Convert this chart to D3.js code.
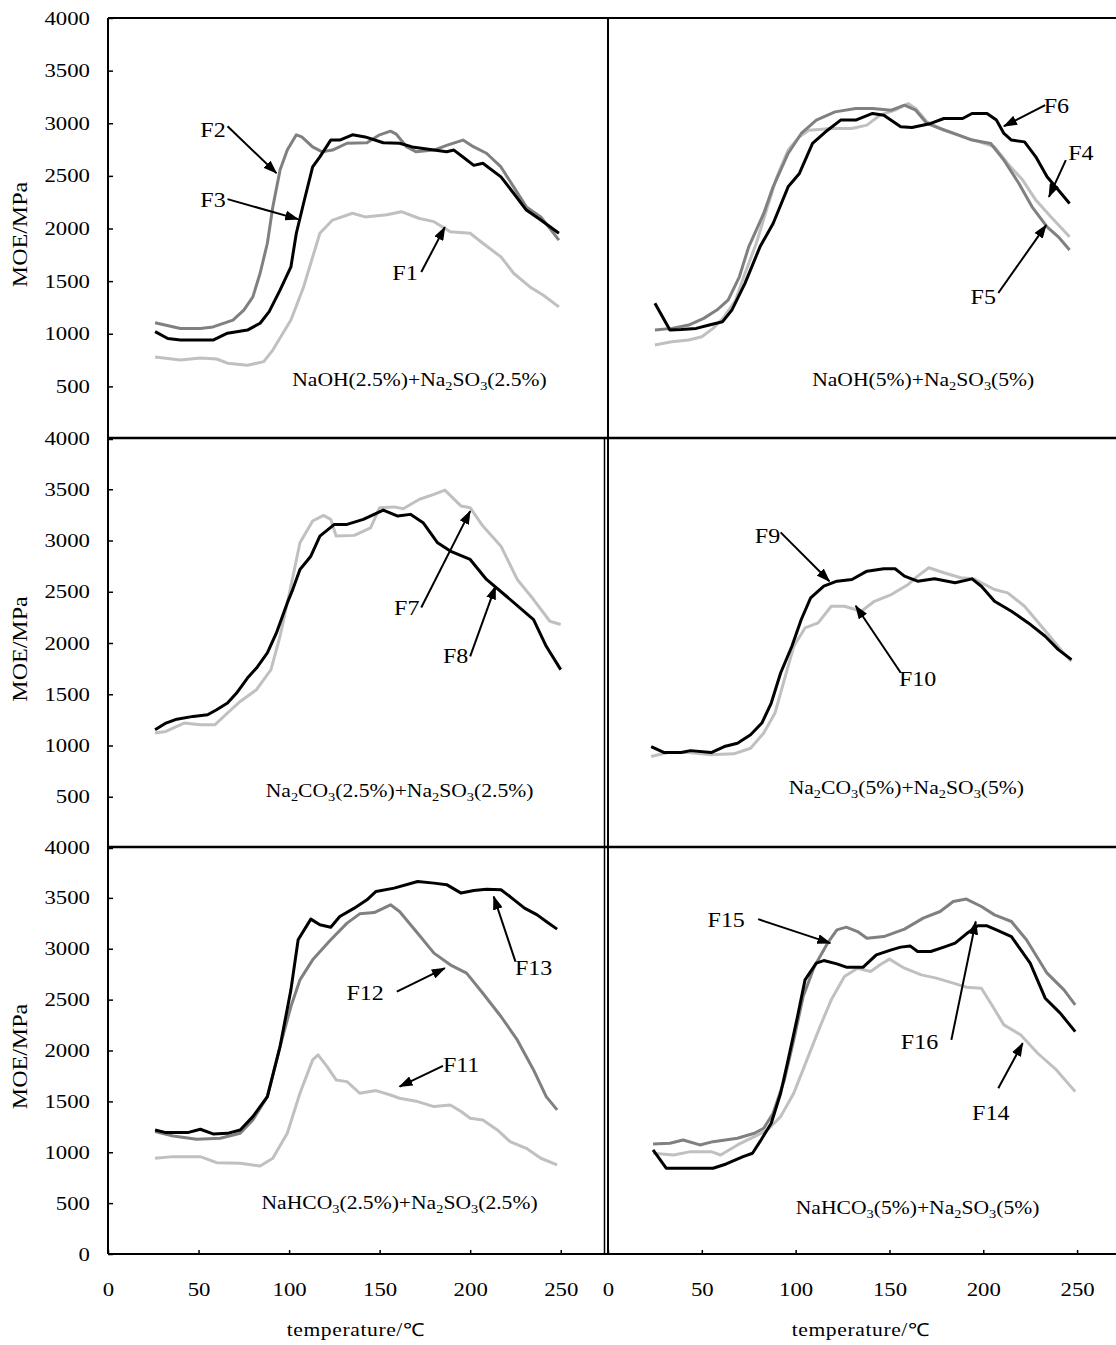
<!DOCTYPE html>
<html>
<head>
<meta charset="utf-8">
<script src="https://cdn.jsdelivr.net/npm/d3@7"></script>
<style>
  body { margin: 0; background: #fff; }
  svg { display: block; }
  text { font-family: "Liberation Serif", "Times New Roman", serif; fill: #000; }
</style>
</head>
<body>
<script>
// ---- data: [temperature (°C), MOE (MPa)] ----
var F1 = [[26,780],[40,750],[51,770],[60,760],[66,720],[77,700],[86,735],[91,845],[101,1130],[108,1445],[117,1955],[124,2080],[135,2145],[142,2110],[154,2130],[162,2160],[172,2095],[180,2065],[189,1970],[200,1955],[207,1860],[217,1730],[224,1575],[233,1445],[240,1370],[249,1255]];
var F2 = [[26,1105],[40,1050],[51,1050],[58,1065],[69,1130],[75,1225],[80,1350],[84,1575],[88,1860],[91,2205],[95,2555],[99,2745],[104,2890],[107,2870],[113,2775],[118,2730],[124,2745],[132,2810],[143,2815],[150,2890],[156,2925],[159,2900],[165,2775],[170,2730],[180,2745],[187,2790],[196,2840],[202,2775],[209,2715],[217,2585],[224,2395],[231,2205],[239,2110],[249,1890]];
var F3 = [[26,1020],[33,955],[40,940],[51,940],[58,940],[66,1005],[77,1035],[84,1100],[89,1210],[95,1415],[101,1635],[104,1955],[108,2240],[113,2585],[117,2680],[123,2840],[128,2840],[135,2890],[142,2870],[152,2815],[161,2810],[168,2775],[180,2745],[187,2730],[191,2745],[196,2680],[202,2600],[207,2620],[217,2490],[224,2335],[231,2175],[239,2080],[249,1955]];
var F4 = [[25,893],[34,924],[43,940],[50,972],[56,1051],[62,1162],[68,1320],[73,1573],[79,1858],[85,2206],[90,2491],[96,2745],[102,2871],[107,2934],[119,2950],[130,2950],[138,2982],[145,3077],[153,3124],[160,3188],[164,3140],[170,3013],[179,2934],[189,2871],[198,2823],[206,2776],[213,2618],[221,2460],[228,2270],[236,2111],[246,1921]];
var F5 = [[25,1035],[34,1051],[43,1083],[51,1146],[58,1225],[64,1320],[70,1541],[75,1826],[83,2143],[88,2396],[96,2713],[103,2903],[111,3029],[121,3108],[132,3140],[141,3140],[151,3124],[158,3172],[164,3124],[170,2998],[177,2950],[187,2887],[194,2840],[204,2808],[211,2650],[219,2428],[226,2206],[234,2016],[240,1921],[246,1795]];
var F6 = [[25,1289],[33,1035],[39,1040],[47,1051],[54,1083],[61,1114],[66,1225],[73,1479],[81,1826],[88,2048],[96,2396],[102,2523],[109,2808],[117,2934],[124,3030],[132,3030],[141,3093],[147,3077],[156,2966],[162,2960],[172,2998],[179,3045],[189,3045],[194,3093],[202,3093],[207,3030],[211,2903],[215,2840],[222,2823],[228,2681],[234,2491],[240,2365],[246,2238]];
var F7 = [[26,1121],[32,1137],[42,1219],[51,1202],[59,1202],[66,1317],[73,1430],[82,1544],[90,1740],[95,2066],[101,2554],[106,2978],[113,3190],[119,3245],[123,3206],[126,3043],[136,3050],[145,3124],[150,3320],[158,3328],[163,3310],[172,3402],[180,3450],[186,3492],[195,3336],[200,3320],[207,3141],[217,2945],[226,2620],[235,2424],[244,2212],[250,2180]];
var F8 = [[26,1153],[32,1219],[38,1257],[47,1284],[55,1300],[60,1349],[66,1414],[71,1512],[77,1658],[82,1756],[88,1903],[93,2098],[99,2391],[102,2521],[106,2717],[112,2847],[117,3043],[125,3157],[132,3157],[141,3206],[152,3297],[160,3238],[167,3255],[174,3174],[182,2978],[189,2897],[200,2815],[209,2620],[220,2456],[235,2229],[242,1968],[250,1740]];
var F9 = [[23,990],[30,931],[39,931],[44,950],[55,931],[62,990],[69,1022],[76,1105],[82,1219],[87,1414],[92,1707],[98,1968],[103,2229],[108,2440],[115,2554],[122,2603],[130,2620],[138,2701],[147,2724],[153,2724],[158,2652],[165,2603],[174,2626],[185,2587],[194,2626],[199,2554],[206,2407],[215,2310],[224,2196],[233,2066],[240,1935],[247,1838]];
var F10 = [[23,892],[32,931],[43,931],[55,909],[67,919],[76,973],[83,1121],[89,1317],[94,1642],[99,1968],[105,2147],[112,2196],[119,2359],[126,2359],[135,2310],[142,2407],[151,2473],[160,2571],[165,2652],[171,2734],[179,2685],[188,2636],[195,2626],[206,2522],[213,2489],[222,2359],[234,2098],[242,1920],[247,1821]];
var F11 = [[26,941],[36,957],[51,957],[60,898],[73,892],[84,865],[91,941],[99,1187],[106,1580],[113,1908],[116,1957],[121,1842],[126,1711],[132,1694],[139,1580],[148,1606],[156,1563],[161,1531],[171,1498],[180,1449],[189,1465],[195,1400],[200,1334],[207,1318],[215,1219],[222,1104],[231,1039],[239,941],[248,875]];
var F12 = [[26,1203],[36,1160],[49,1127],[62,1137],[73,1186],[80,1318],[88,1547],[95,2038],[101,2432],[106,2694],[113,2891],[123,3088],[132,3252],[139,3343],[147,3356],[156,3432],[161,3366],[171,3153],[180,2957],[189,2842],[198,2760],[207,2563],[217,2334],[226,2104],[235,1809],[242,1547],[248,1416]];
var F13 = [[26,1219],[32,1193],[44,1193],[51,1226],[58,1180],[66,1186],[73,1219],[80,1350],[88,1547],[95,2038],[101,2596],[105,3088],[112,3291],[117,3235],[123,3212],[128,3317],[136,3399],[143,3481],[148,3563],[158,3596],[171,3661],[180,3645],[187,3630],[195,3547],[202,3572],[209,3585],[217,3580],[222,3513],[230,3399],[237,3333],[242,3268],[248,3193]];
var F14 = [[24,990],[35,973],[44,1006],[55,1006],[60,973],[69,1072],[78,1153],[85,1219],[92,1350],[99,1580],[106,1908],[113,2235],[119,2498],[126,2727],[133,2809],[140,2776],[145,2842],[150,2898],[158,2809],[167,2743],[175,2711],[184,2662],[191,2622],[199,2612],[204,2465],[211,2252],[220,2153],[229,1973],[239,1809],[249,1596]];
var F15 = [[24,1082],[33,1088],[40,1121],[49,1072],[56,1104],[69,1137],[78,1187],[83,1236],[88,1383],[94,1711],[99,2104],[104,2530],[110,2825],[117,3055],[122,3186],[127,3212],[133,3169],[138,3104],[147,3120],[158,3193],[168,3301],[177,3366],[184,3464],[191,3488],[199,3415],[206,3333],[215,3268],[223,3088],[234,2760],[243,2596],[249,2448]];
var F16 = [[24,1023],[31,843],[40,843],[56,843],[63,885],[72,957],[77,990],[81,1104],[87,1285],[92,1580],[96,1908],[101,2334],[105,2694],[111,2858],[115,2884],[122,2851],[127,2819],[136,2819],[143,2940],[151,2989],[156,3016],[161,3028],[165,2973],[172,2973],[179,3016],[185,3055],[191,3147],[197,3225],[202,3225],[207,3186],[215,3120],[220,2989],[225,2858],[233,2514],[241,2367],[249,2186]];

// tick labels
var temperatureTicks = [0, 50, 100, 150, 200, 250];
var moeTicks = [0, 500, 1000, 1500, 2000, 2500, 3000, 3500, 4000];

// panel titles: [text, subscript?]
var title1 = [['NaOH(2.5%)+Na',0],['2',1],['SO',0],['3',1],['(2.5%)',0]];
var title2 = [['NaOH(5%)+Na',0],['2',1],['SO',0],['3',1],['(5%)',0]];
var title3 = [['Na',0],['2',1],['CO',0],['3',1],['(2.5%)+Na',0],['2',1],['SO',0],['3',1],['(2.5%)',0]];
var title4 = [['Na',0],['2',1],['CO',0],['3',1],['(5%)+Na',0],['2',1],['SO',0],['3',1],['(5%)',0]];
var title5 = [['NaHCO',0],['3',1],['(2.5%)+Na',0],['2',1],['SO',0],['3',1],['(2.5%)',0]];
var title6 = [['NaHCO',0],['3',1],['(5%)+Na',0],['2',1],['SO',0],['3',1],['(5%)',0]];

// arrow notes: [label, labelT, labelV, tailT, tailV, tipT, tipV]
var notes1 = [['F2',58,2934,66,2972,93,2526],['F3',58,2270,66,2279,105,2089],['F1',164,1576,173,1586,186,2013]];
var notes2 = [['F6',239,3162,233,3172,211,2972],['F4',252,2716,244,2650,235,2301],['F5',200,1349,208,1387,233.5,2032]];
var notes3 = [['F7',165,2343,173,2346,200,3287],['F8',192,1870,200,1870,214,2554]];
var notes4 = [['F9',85,3043,92,3079,118,2603],['F10',165,1645,156,1710,132,2363]];
var notes5 = [['F13',235,2809,225,2874,213,3513],['F12',142,2563,159.5,2579,186,2809],['F11',195,1858,185,1849,161,1645]];
var notes6 = [['F15',63,3284,80,3291,118.5,3055],['F16',166,2088,183,2104,196,3268],['F14',204,1383,208,1629,221,2072]];

// ---- layout ----
var width = 1116, height = 1345;
var stretchX = 1.2;   // text in the figure is drawn a bit wide
var serif = '"Liberation Serif", "Times New Roman", serif';
var colours = {light: '#c0c0c0', dark: '#808080', black: '#000000'};

var cols = [
  {left: 108, right: 606},
  {left: 608, right: 1124}
];
var rows = [
  {top: 18, bottom: 439},
  {top: 438, bottom: 848},
  {top: 847, bottom: 1254}
];

var panels = [
  {col: 0, row: 0, series: [[F1,'light'],[F2,'dark'],[F3,'black']], title: title1, titlePos: [172, 503], notes: notes1},
  {col: 1, row: 0, series: [[F4,'light'],[F5,'dark'],[F6,'black']], title: title2, titlePos: [168, 503], notes: notes2},
  {col: 0, row: 1, series: [[F7,'light'],[F8,'black']], title: title3, titlePos: [161, 499], notes: notes3},
  {col: 1, row: 1, series: [[F10,'light'],[F9,'black']], title: title4, titlePos: [159, 528], notes: notes4},
  {col: 0, row: 2, series: [[F11,'light'],[F12,'dark'],[F13,'black']], title: title5, titlePos: [161, 442], notes: notes5},
  {col: 1, row: 2, series: [[F14,'light'],[F15,'dark'],[F16,'black']], title: title6, titlePos: [165, 393], notes: notes6}
];

var svg = d3.select('body')
  .append('svg')
    .attr('width', width)
    .attr('height', height);

// arrow head
svg.append('defs').append('marker')
    .attr('id', 'arrow')
    .attr('viewBox', '0 0 14 10')
    .attr('refX', 13)
    .attr('refY', 5)
    .attr('markerUnits', 'userSpaceOnUse')
    .attr('markerWidth', 14)
    .attr('markerHeight', 10)
    .attr('orient', 'auto')
  .append('path')
    .attr('d', 'M0,0 L14,5 L0,10 Z')
    .attr('fill', '#000');

function xScaleFor(c) {
  return d3.scaleLinear().domain([0, 275]).range([cols[c].left, cols[c].right]);
}
function yScaleFor(r) {
  return d3.scaleLinear().domain([0, 4000]).range([rows[r].bottom, rows[r].top]);
}

// wide text helper
function wide(sel, x, y) {
  return sel.attr('x', x / stretchX).attr('y', y).attr('transform', 'scale(' + stretchX + ',1)');
}

panels.forEach(function(p) {
  var x = xScaleFor(p.col), y = yScaleFor(p.row);
  var g = svg.append('g');

  // curves
  var path = d3.line()
    .x(function(d) { return x(d[0]); })
    .y(function(d) { return y(d[1]); });
  p.series.forEach(function(s) {
    g.append('path')
      .datum(s[0])
      .attr('d', path)
      .attr('fill', 'none')
      .attr('stroke', colours[s[1]])
      .attr('stroke-width', 3)
      .attr('stroke-linejoin', 'round');
  });

  // arrows and F labels
  p.notes.forEach(function(n) {
    g.append('line')
      .attr('x1', x(n[3])).attr('y1', y(n[4]))
      .attr('x2', x(n[5])).attr('y2', y(n[6]))
      .attr('stroke', '#000')
      .attr('stroke-width', 2)
      .attr('marker-end', 'url(#arrow)');
    wide(g.append('text'), x(n[1]), y(n[2]))
      .attr('text-anchor', 'middle')
      .attr('dy', '0.35em')
      .style('font-size', '20px')
      .text(n[0]);
  });

  // panel title with subscripts
  var t = wide(g.append('text'), x(p.titlePos[0]), y(p.titlePos[1]))
    .attr('text-anchor', 'middle')
    .style('font-size', '18px');
  var shifted = false;
  p.title.forEach(function(part) {
    var ts = t.append('tspan').text(part[0]);
    if (part[1]) {
      ts.style('font-size', '12px').attr('dy', shifted ? 0 : 4);
      shifted = true;
    } else {
      ts.attr('dy', shifted ? -4 : 0);
      shifted = false;
    }
  });

  // y axis on the left column only; the 0 of the upper rows sits under the next 4000
  if (p.col === 0) {
    var ya = svg.append('g')
      .attr('transform', 'translate(' + x(0) + ',0)')
      .attr('font-family', serif)
      .call(d3.axisLeft(y)
        .tickValues(moeTicks)
        .tickFormat(function(d) { return (d === 0 && p.row < 2) ? '' : d; })
        .tickSizeInner(-5).tickSizeOuter(0).tickPadding(18));
    ya.select('.domain').remove();
    ya.selectAll('line').attr('stroke', '#000').attr('stroke-width', 1.5);
    ya.selectAll('text').each(function() {
      var s = d3.select(this);
      s.attr('x', +s.attr('x') / stretchX).attr('transform', 'scale(' + stretchX + ',1)');
    }).style('font-size', '19px');

    // y title
    svg.append('text')
      .attr('transform', 'translate(27,' + ((rows[p.row].top + rows[p.row].bottom) / 2 + 6) + ') rotate(-90) scale(' + stretchX + ',1)')
      .attr('text-anchor', 'middle')
      .style('font-size', '20px')
      .text('MOE/MPa');
  }

  // x axis on the bottom row only
  if (p.row === 2) {
    var xa = svg.append('g')
      .attr('transform', 'translate(0,' + y(0) + ')')
      .attr('font-family', serif)
      .call(d3.axisBottom(x).tickValues(temperatureTicks).tickSizeInner(-4).tickSizeOuter(0).tickPadding(29));
    xa.select('.domain').remove();
    xa.selectAll('line').attr('stroke', '#000').attr('stroke-width', 1.5);
    xa.selectAll('text')
      .attr('transform', 'scale(' + stretchX + ',1)')
      .style('font-size', '19px');

    wide(svg.append('text'), (cols[p.col].left + (p.col === 0 ? 248 : 253)), 1336)
      .attr('text-anchor', 'middle')
      .style('font-size', '18px')
      .style('letter-spacing', '0.5px')
      .text('temperature/\u2103');
  }
});

// ---- frame lines ----
var xl = xScaleFor(0), xr = xScaleFor(1);
var y0 = yScaleFor(0), y1 = yScaleFor(1), y2 = yScaleFor(2);
var frame = svg.append('g').attr('stroke', '#000').attr('fill', 'none');
// horizontal borders
frame.append('line').attr('x1', xl(0)).attr('x2', width).attr('y1', y0(4000)).attr('y2', y0(4000)).attr('stroke-width', 2);
frame.append('line').attr('x1', xl(0)).attr('x2', width).attr('y1', y1(4000)).attr('y2', y1(4000)).attr('stroke-width', 2.5);
frame.append('line').attr('x1', xl(0)).attr('x2', width).attr('y1', y2(4000)).attr('y2', y2(4000)).attr('stroke-width', 2.5);
frame.append('line').attr('x1', xl(0)).attr('x2', width).attr('y1', y2(0)).attr('y2', y2(0)).attr('stroke-width', 2);
// vertical borders
frame.append('line').attr('x1', xl(0)).attr('x2', xl(0)).attr('y1', y0(4000)).attr('y2', y2(0)).attr('stroke-width', 2);
frame.append('line').attr('x1', xr(0)).attr('x2', xr(0)).attr('y1', y0(4000)).attr('y2', y2(0)).attr('stroke-width', 2);
frame.append('line').attr('x1', xr(0) - 3.5).attr('x2', xr(0) - 3.5).attr('y1', y1(4000)).attr('y2', y2(0)).attr('stroke-width', 1.5);
</script>
</body>
</html>
